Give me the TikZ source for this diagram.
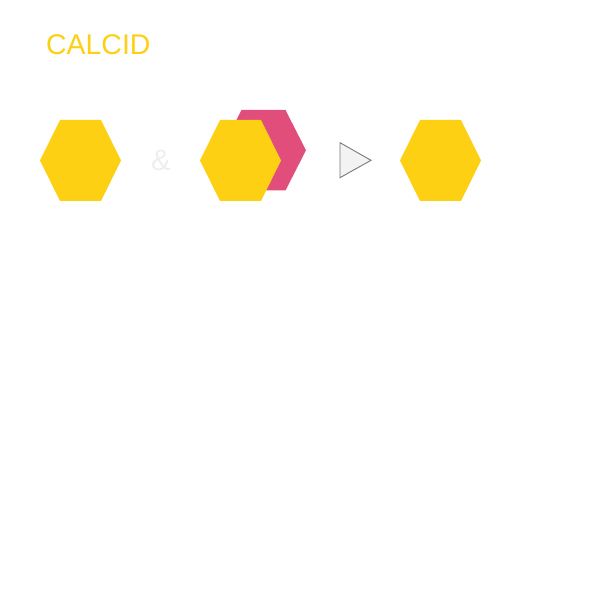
\documentclass[tikz,border=0pt]{standalone}
\usepackage{fontspec}
\setmainfont{Liberation Sans}
\usetikzlibrary{calc}
\definecolor{hexyellow}{RGB}{253,208,20}
\definecolor{hexpink}{RGB}{226,78,123}
\definecolor{ampgray}{RGB}{238,238,238}
\definecolor{playfill}{RGB}{243,243,243}
\definecolor{playline}{RGB}{120,120,120}

\begin{document}
\begin{tikzpicture}[x=1pt,y=-1pt,line cap=round,line join=miter]
  \useasboundingbox (0,0) rectangle (612,601);
  % Title
  \node[anchor=base west,inner sep=0pt,text=hexyellow,font=\fontsize{28.5}{30}\selectfont] (title) at (45.8,54.5) {CALCID};

  % Hexagon centres
  \coordinate (h1) at (80.5,160.5);
  \coordinate (h2) at (240.5,160.5);
  \coordinate (h3) at (440.5,160.5);
  \coordinate (hp) at (263.5,150.25);

  % Pink one behind the second yellow one
  \fill[hexpink] ($(hp)+(-42.5,0)$) -- ++(20.5,-40.25) -- ++(44,0) -- ++(20.5,40.25)
                 -- ++(-20.5,40.25) -- ++(-44,0) -- cycle;
  \foreach \c in {h1,h2,h3}
    \fill[hexyellow] ($(\c)+(-40.5,0)$) -- ++(20,-40.5) -- ++(41,0) -- ++(20,40.5)
                     -- ++(-20,40.5) -- ++(-41,0) -- cycle;

  \node[anchor=base,inner sep=0pt,text=ampgray,font=\fontsize{29.5}{30}\selectfont] (amp) at (161,171) {\&};

  % Play triangle
  \coordinate (t1) at (340,142.7);
  \coordinate (t2) at (371,160.3);
  \coordinate (t3) at (340,177.7);
  \draw[fill=playfill,draw=playline,line width=0.9pt] (t1)--(t2)--(t3)--cycle;
\end{tikzpicture}
\end{document}
